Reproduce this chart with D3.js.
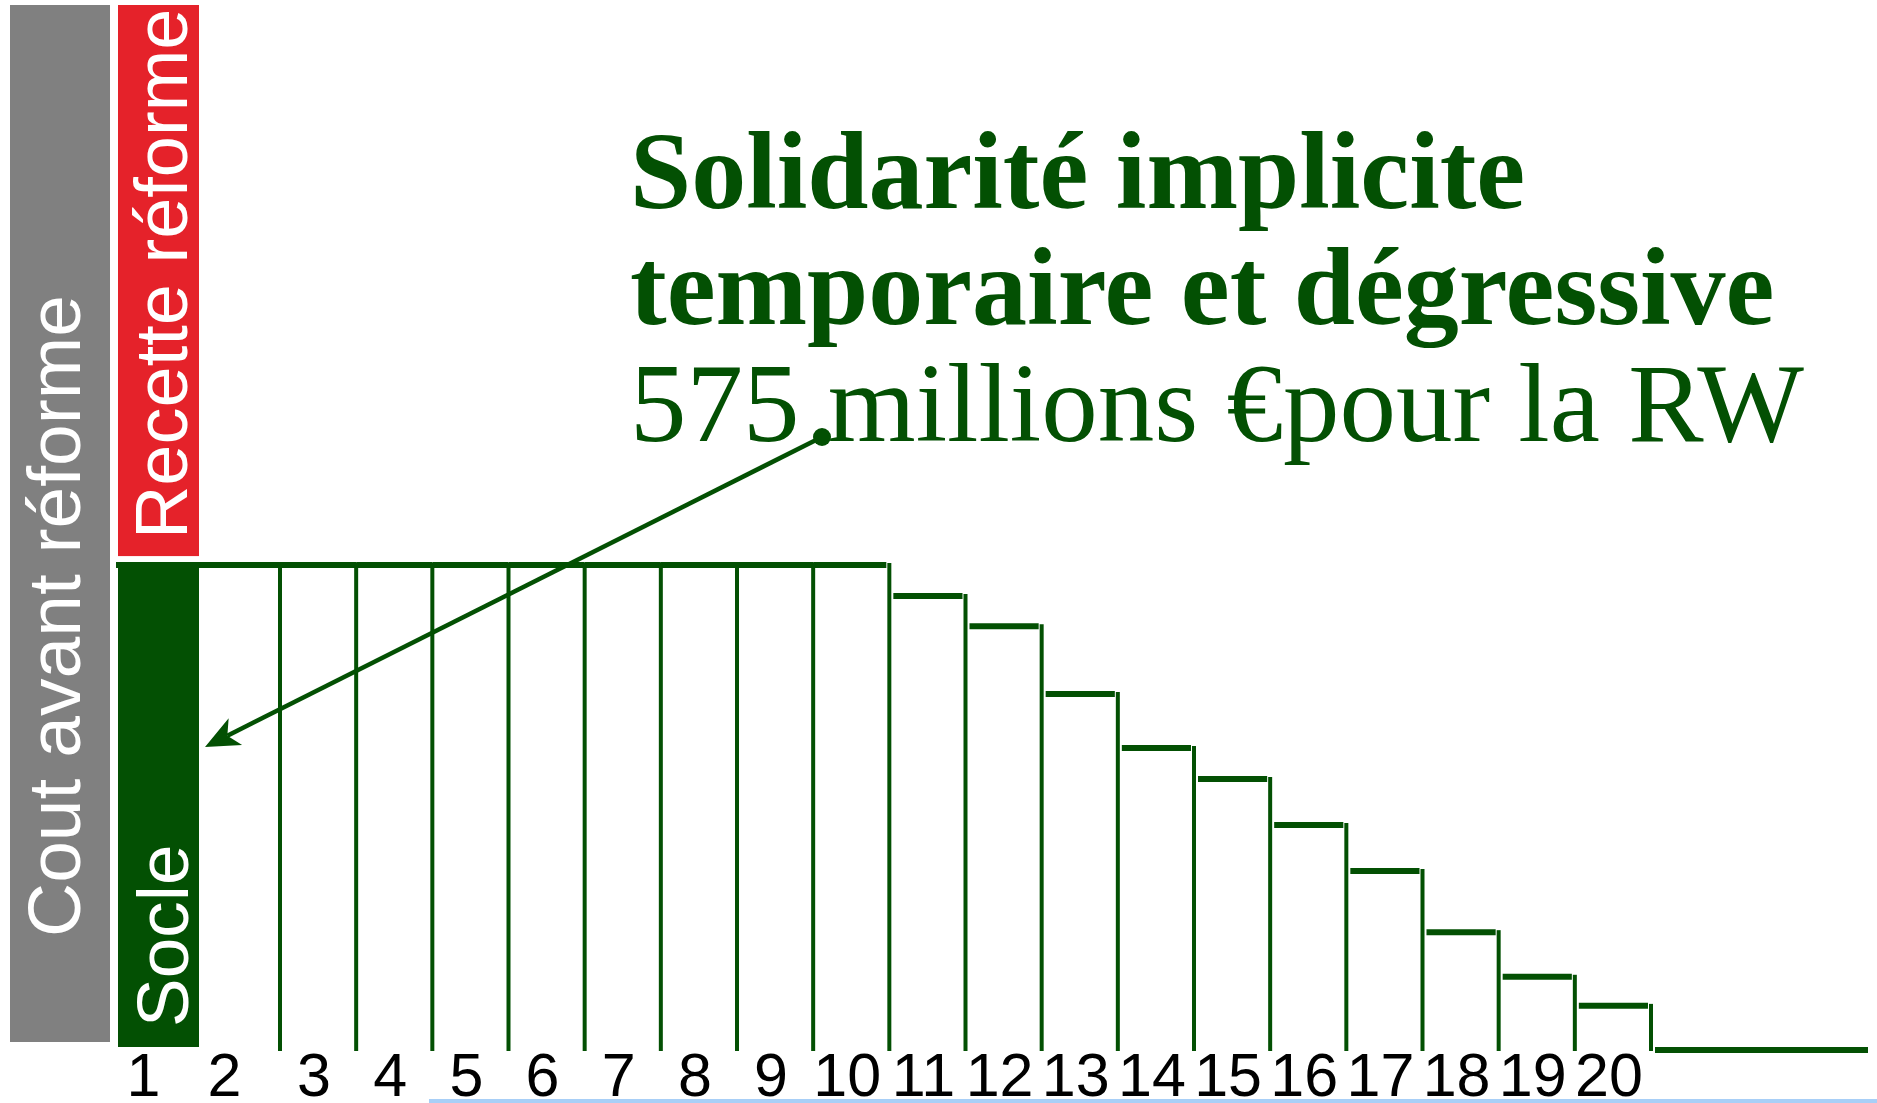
<!DOCTYPE html>
<html>
<head>
<meta charset="utf-8">
<script src="https://d3js.org/d3.v7.min.js"></script>
<style>
  body { margin: 0; background: #fff; }
  svg { display: block; }
</style>
</head>
<body>
<script>
  // bands along the bottom (band 21 is the flat tail, no label)
  var categories = ["1","2","3","4","5","6","7","8","9","10","11","12","13","14","15","16","17","18","19","20","21"];
  var tickLabels = ["1","2","3","4","5","6","7","8","9","10","11","12","13","14","15","16","17","18","19","20",""];

  // stacked left columns (socle = 100)
  var socleValue = 100;
  var recetteValue = 115.5;
  var coutAvantValue = 215.5;

  // level of the staircase for bands 2..21
  var stepValues = [100,100,100,100,100,100,100,100,100,93.6,87.4,73.4,62.3,55.9,46.4,36.9,24.3,15.1,9.1,0];

  var titleLines = ["Solidarité implicite", "temporaire et dégressive", "575 millions €pour la RW"];
  var arrowTarget = 62.5;

  var width = 1877, height = 1103;
  var green = "#035003", red = "#e5222a", grey = "#808080";

  var svg = d3.select("body").append("svg")
    .attr("width", width)
    .attr("height", height);

  // band edges: the first two bands are a little wider than the rest
  var xs = d3.scaleLinear().domain([0, 2, 20]).range([118, 280, 1651]);
  function left(i) { return xs(i); }
  function right(i) { return xs(i + 1); }
  var xLeft = d3.scaleBand().domain(["avant"]).range([10, 110]);
  var y = d3.scaleLinear().domain([0, coutAvantValue]).range([1050, 5]);

  // Cout avant reforme
  svg.append("rect")
    .attr("x", xLeft("avant"))
    .attr("y", y(coutAvantValue))
    .attr("width", xLeft.bandwidth())
    .attr("height", y(0) - 8 - y(coutAvantValue))
    .attr("fill", grey);

  // Recette reforme, stacked on the socle
  svg.append("rect")
    .attr("x", left(0))
    .attr("y", y(socleValue + recetteValue))
    .attr("width", right(0) - left(0))
    .attr("height", y(socleValue) - 9 - y(socleValue + recetteValue))
    .attr("fill", red);

  // Socle
  svg.append("rect")
    .attr("x", left(0))
    .attr("y", y(socleValue))
    .attr("width", right(0) - left(0))
    .attr("height", y(0) - 3 - y(socleValue))
    .attr("fill", green);

  // rotated labels in the columns
  function vlabel(tx, ty, size, txt) {
    svg.append("text")
      .attr("transform", "translate(" + tx + "," + ty + ") rotate(-90)")
      .style("font-family", "'Liberation Sans', Arial, sans-serif")
      .style("font-size", size + "px")
      .style("fill", "#fff")
      .text(txt);
  }
  vlabel(xLeft("avant") + 70, 937, 75, "Cout avant réforme");
  vlabel(right(0) - 12, y(socleValue) - 26, 74, "Recette réforme");
  vlabel(right(0) - 11, y(0) - 23, 73, "Socle");

  // staircase
  var allValues = [socleValue].concat(stepValues);
  var steps = categories.map(function (c, i) { return { cat: c, v: allValues[i], i: i }; });

  svg.selectAll("line.h")
    .data(steps)
    .enter().append("line")
    .attr("class", "h")
    .attr("x1", function (d) {
      if (d.i === 0) return left(0) - 2;
      return left(d.i) + (allValues[d.i - 1] === d.v ? 0 : 4);
    })
    .attr("x2", function (d) {
      if (d.i === steps.length - 1) return width - 9;
      return right(d.i) - (allValues[d.i + 1] === d.v ? 0 : 3);
    })
    .attr("y1", function (d) { return y(d.v); })
    .attr("y2", function (d) { return y(d.v); })
    .attr("stroke", green)
    .attr("stroke-width", 6);

  svg.selectAll("line.v")
    .data(steps.slice(1, steps.length - 1))
    .enter().append("line")
    .attr("class", "v")
    .attr("x1", function (d) { return right(d.i); })
    .attr("x2", function (d) { return right(d.i); })
    .attr("y1", function (d) { return y(d.v) - 2; })
    .attr("y2", y(0) + 1)
    .attr("stroke", green)
    .attr("stroke-width", 4);

  // bottom labels
  svg.selectAll("text.tick")
    .data(steps)
    .enter().append("text")
    .attr("class", "tick")
    .attr("x", function (d) { return (left(d.i) + right(d.i)) / 2 - (d.i < 2 ? 15 : 4); })
    .attr("y", 1096)
    .attr("text-anchor", "middle")
    .style("font-family", "'Liberation Sans', Arial, sans-serif")
    .style("font-size", "61px")
    .style("fill", "#000")
    .text(function (d) { return tickLabels[d.i]; });

  // light blue rule at the very bottom
  svg.append("line")
    .attr("x1", 429).attr("x2", width)
    .attr("y1", 1101).attr("y2", 1101)
    .attr("stroke", "#a8cff7")
    .attr("stroke-width", 4);

  // title
  var title = svg.append("text")
    .style("font-family", "'Liberation Serif', 'Times New Roman', serif")
    .style("fill", green);
  title.append("tspan").attr("x", 630).attr("y", 208)
    .style("font-weight", "bold").style("font-size", "110px").text(titleLines[0]);
  title.append("tspan").attr("x", 630).attr("y", 324)
    .style("font-weight", "bold").style("font-size", "110px").text(titleLines[1]);
  title.append("tspan").attr("x", 630).attr("y", 441)
    .style("font-size", "113px").text(titleLines[2]);

  // arrow from the title to the socle
  var from = [822, 437];
  var tip = [right(0) + 6, y(arrowTarget)];
  var dx = tip[0] - from[0], dy = tip[1] - from[1];
  var len = Math.sqrt(dx * dx + dy * dy);
  var ux = dx / len, uy = dy / len;
  var px = -uy, py = ux;
  var headLen = 34, headW = 15, notch = 25;

  svg.append("line")
    .attr("x1", from[0]).attr("y1", from[1])
    .attr("x2", tip[0] - ux * notch).attr("y2", tip[1] - uy * notch)
    .attr("stroke", green)
    .attr("stroke-width", 4.5);

  svg.append("path")
    .attr("d", d3.line()([
      tip,
      [tip[0] - ux * headLen + px * headW, tip[1] - uy * headLen + py * headW],
      [tip[0] - ux * notch, tip[1] - uy * notch],
      [tip[0] - ux * headLen - px * headW, tip[1] - uy * headLen - py * headW]
    ]) + "Z")
    .attr("fill", green);

  svg.append("circle")
    .attr("cx", from[0]).attr("cy", from[1])
    .attr("r", 9)
    .attr("fill", green);
</script>
</body>
</html>
